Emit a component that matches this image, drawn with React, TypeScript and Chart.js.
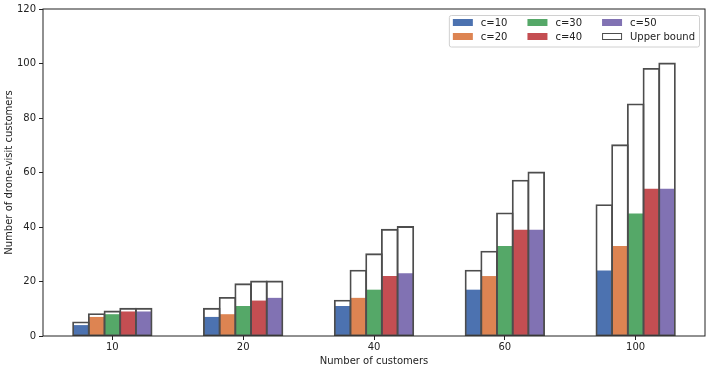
import React, { useEffect, useRef } from "react";
import { Chart, registerables } from "chart.js";

Chart.register(...registerables);

// Number of customers per instance
const categories = ["10", "20", "40", "60", "100"];

// Drone-visit customers found for each capacity c
const seriesLabels = ["c=10", "c=20", "c=30", "c=40", "c=50"];
const visitsC10 = [4, 7, 11, 17, 24];
const visitsC20 = [7, 8, 14, 22, 33];
const visitsC30 = [8, 11, 17, 33, 45];
const visitsC40 = [9, 13, 22, 39, 54];
const visitsC50 = [9, 14, 23, 39, 54];

// Upper bound for each capacity c
const upperC10 = [5, 10, 13, 24, 48];
const upperC20 = [8, 14, 24, 31, 70];
const upperC30 = [9, 19, 30, 45, 85];
const upperC40 = [10, 20, 39, 57, 98];
const upperC50 = [10, 20, 40, 60, 100];

const yTicks = [0, 20, 40, 60, 80, 100, 120];

const visits = [visitsC10, visitsC20, visitsC30, visitsC40, visitsC50];
const uppers = [upperC10, upperC20, upperC30, upperC40, upperC50];
const colors = ["#4C72B0", "#DD8452", "#55A868", "#C44E52", "#8172B3"];
const edgeColor = "#4d4d4d";
const FONT = "'DejaVu Sans', sans-serif";
const TEXT = "#222222";

const toPoints = (vals: number[]) => vals.map((y, i) => ({ x: i, y }));

// Frame around the plot area (all four spines)
const framePlugin = {
  id: "frame",
  afterDatasetsDraw(chart: any) {
    const { ctx, chartArea: a } = chart;
    ctx.save();
    ctx.strokeStyle = "#222";
    ctx.lineWidth = 1;
    ctx.strokeRect(a.left, a.top, a.right - a.left, a.bottom - a.top);
    ctx.restore();
  },
};

// Three-column legend, filled column by column
const legendPlugin = {
  id: "colLegend",
  afterDraw(chart: any) {
    const { ctx, chartArea: a } = chart;
    const entries = [
      ...seriesLabels.map((label, i) => ({ label, fill: colors[i], stroke: null as string | null })),
      { label: "Upper bound", fill: "#ffffff", stroke: edgeColor },
    ];
    const cols = 3;
    const rows = 2;
    const patchW = 20;
    const patchH = 7;
    const textPad = 8;
    const colSpace = 20;
    const pad = 4;
    ctx.save();
    ctx.font = `10px ${FONT}`;
    const colWidths: number[] = [];
    for (let c = 0; c < cols; c++) {
      let w = 0;
      for (let r = 0; r < rows; r++) {
        const e = entries[c * rows + r];
        if (e) w = Math.max(w, ctx.measureText(e.label).width);
      }
      colWidths.push(patchW + textPad + w);
    }
    const totalW = pad * 2 + colWidths.reduce((s, w) => s + w, 0) + colSpace * (cols - 1);
    const boxH = 31.5;
    const right = a.right - 6;
    const top = a.top + 6;
    const left = right - totalW;

    ctx.fillStyle = "rgba(255,255,255,0.85)";
    ctx.strokeStyle = "#d0d0d0";
    ctx.lineWidth = 1;
    ctx.beginPath();
    (ctx as any).roundRect(left + 0.5, top + 0.5, totalW, boxH, 2);
    ctx.fill();
    ctx.stroke();

    ctx.textBaseline = "middle";
    ctx.textAlign = "left";
    let x = left + pad;
    for (let c = 0; c < cols; c++) {
      for (let r = 0; r < rows; r++) {
        const e = entries[c * rows + r];
        if (!e) continue;
        const cy = top + 7.5 + r * 14;
        ctx.fillStyle = e.fill;
        ctx.fillRect(x, cy - patchH / 2, patchW, patchH);
        if (e.stroke) {
          ctx.strokeStyle = e.stroke;
          ctx.lineWidth = 1;
          ctx.strokeRect(x + 0.5, cy - patchH / 2 + 0.5, patchW - 1, patchH - 1);
        }
        ctx.fillStyle = TEXT;
        ctx.fillText(e.label, x + patchW + textPad, cy + 0.5);
      }
      x += colWidths[c] + colSpace;
    }
    ctx.restore();
  },
};

export default function App() {
  const canvasRef = useRef<HTMLCanvasElement | null>(null);

  useEffect(() => {
    const canvas = canvasRef.current;
    if (!canvas) return;

    const filled = visits.map((vals, i) => ({
      label: seriesLabels[i],
      data: toPoints(vals),
      stack: `s${i}`,
      order: 1,
      backgroundColor: colors[i],
      borderWidth: 0,
      categoryPercentage: 0.6,
      barPercentage: 1.0,
    }));
    // Outline bars: a hairline border grown outwards and inwards by the
    // inflate amount, so the edge sits centred on the bar boundary and
    // neighbouring bars share one line.
    const bounds = uppers.map((vals, i) => ({
      label: `Upper bound ${seriesLabels[i]}`,
      data: toPoints(vals),
      stack: `s${i}`,
      order: 0,
      backgroundColor: "rgba(255,255,255,0)",
      borderColor: edgeColor,
      borderWidth: 0.01,
      inflateAmount: 0.9,
      borderSkipped: false,
      categoryPercentage: 0.6,
      barPercentage: 1.0,
    }));

    const chart = new Chart(canvas, {
      type: "bar",
      data: { datasets: [...bounds, ...filled] as any },
      options: {
        responsive: false,
        animation: false,
        events: [],
        layout: { padding: { top: 7, right: 3, left: 0, bottom: 0 } },
        plugins: {
          legend: { display: false },
          tooltip: { enabled: false },
        },
        scales: {
          x: {
            type: "linear",
            min: -0.53,
            max: 4.53,
            offset: false,
            stacked: true,
            border: { display: false },
            grid: {
              display: true,
              offset: false,
              drawOnChartArea: false,
              drawTicks: true,
              tickLength: 4,
              color: "#222",
            },
            ticks: {
              stepSize: 1,
              includeBounds: false,
              autoSkip: false,
              maxRotation: 0,
              padding: 1,
              color: TEXT,
              font: { family: FONT, size: 10 },
              callback: (v: any) => categories[v as number] ?? "",
            },
            title: {
              display: true,
              text: "Number of customers",
              color: TEXT,
              font: { family: FONT, size: 10 },
              padding: { top: 0, bottom: 0 },
            },
            afterFit: (scale: any) => {
              scale.height = 31;
            },
          },
          y: {
            stacked: false,
            min: 0,
            max: 120,
            border: { display: false },
            grid: {
              display: true,
              drawOnChartArea: false,
              drawTicks: true,
              tickLength: 4,
              color: "#222",
            },
            afterBuildTicks: (scale: any) => {
              scale.ticks = yTicks.map((value) => ({ value }));
            },
            ticks: {
              padding: 3,
              color: TEXT,
              font: { family: FONT, size: 10 },
            },
            title: {
              display: true,
              text: "Number of drone-visit customers",
              color: TEXT,
              font: { family: FONT, size: 10 },
              padding: { top: 3, bottom: 0 },
            },
            afterFit: (scale: any) => {
              scale.width = 43;
            },
          },
        },
      },
      plugins: [framePlugin, legendPlugin],
    });

    return () => chart.destroy();
  }, []);

  return (
    <div style={{ position: "fixed", left: 0, top: 0, width: 708, height: 367, background: "#fff" }}>
      <canvas ref={canvasRef} width={708} height={367} style={{ display: "block" }} />
    </div>
  );
}
